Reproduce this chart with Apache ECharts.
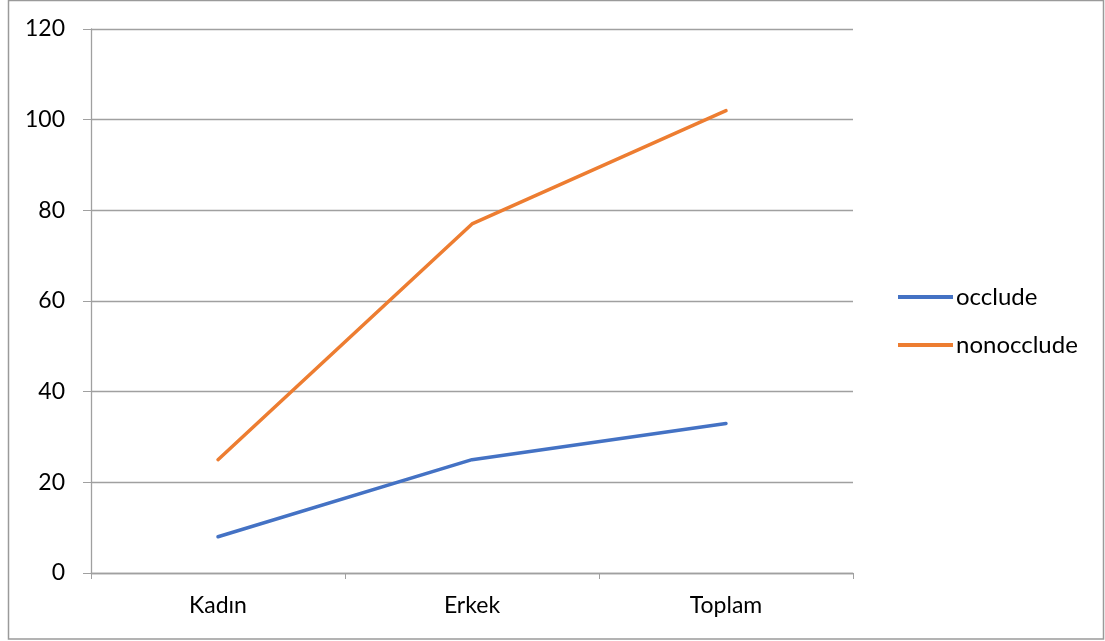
<!DOCTYPE html>
<html>
<head>
<meta charset="utf-8">
<script src="https://cdn.jsdelivr.net/npm/echarts@6/dist/echarts.min.js"></script>
<style>
  html, body { margin: 0; padding: 0; background: #fff; }
  #chart { width: 1105px; height: 641px; }
</style>
</head>
<body>
<div id="chart"></div>
<script>
// Groups along the x axis
const categories = ['Kadın', 'Erkek', 'Toplam'];
// Series values per group
const occlude = [8, 25, 33];
const nonocclude = [25, 77, 102];
// Value axis range
const yMin = 0;
const yMax = 120;
const yStep = 20;

const FONT = 'Lato, "Open Sans", sans-serif';
const chart = echarts.init(document.getElementById('chart'), null, { renderer: 'canvas' });

chart.setOption({
  animation: false,
  backgroundColor: '#fff',
  graphic: [{
    type: 'rect',
    shape: { x: 8.5, y: 0.5, width: 1095, height: 638.5 },
    style: { fill: 'none', stroke: '#9a9a9a', lineWidth: 1.5 },
    silent: true
  }],
  grid: { left: 91, right: 252, top: 29, bottom: 68, containLabel: false },
  legend: {
    orient: 'vertical',
    left: 893,
    top: 278,
    itemWidth: 55,
    itemHeight: 4,
    itemGap: 20,
    icon: 'rect',
    textStyle: { fontFamily: FONT, fontSize: 24, lineHeight: 28, color: '#000', padding: [0, 0, 0, -2] },
    data: ['occlude', 'nonocclude']
  },
  xAxis: {
    type: 'category',
    data: categories,
    boundaryGap: true,
    axisLine: { lineStyle: { color: '#a0a0a0', width: 1.3 } },
    axisTick: { show: true, length: 6, lineStyle: { color: '#a0a0a0' } },
    axisLabel: { fontFamily: FONT, fontSize: 23, color: '#000', margin: 21 }
  },
  yAxis: {
    type: 'value',
    min: yMin,
    max: yMax,
    interval: yStep,
    axisLine: { show: true, lineStyle: { color: '#a0a0a0', width: 1.3 } },
    axisTick: { show: true, length: 8, lineStyle: { color: '#a0a0a0' } },
    axisLabel: { fontFamily: FONT, fontSize: 23, color: '#000', margin: 26 },
    splitLine: { show: true, lineStyle: { color: '#a0a0a0', width: 1.3 } }
  },
  series: [
    {
      name: 'occlude',
      type: 'line',
      data: occlude,
      symbol: 'none',
      lineStyle: { color: '#4472C4', width: 3.5, cap: 'round' },
      itemStyle: { color: '#4472C4' }
    },
    {
      name: 'nonocclude',
      type: 'line',
      data: nonocclude,
      symbol: 'none',
      lineStyle: { color: '#ED7D31', width: 3.5, cap: 'round' },
      itemStyle: { color: '#ED7D31' }
    }
  ]
});
</script>
</body>
</html>
